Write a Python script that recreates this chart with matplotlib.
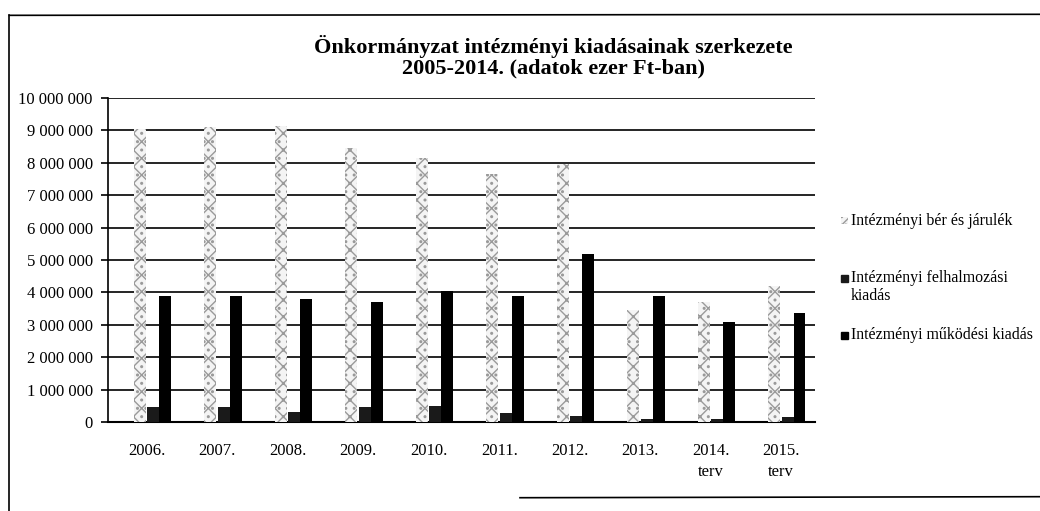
import matplotlib
matplotlib.use("Agg")
import matplotlib.pyplot as plt
import numpy as np
from matplotlib.patches import Rectangle

plt.rcParams['font.family'] = ['Liberation Serif', 'DejaVu Serif']

years = ["2006.", "2007.", "2008.", "2009.", "2010.", "2011.", "2012.", "2013.", "2014.\nterv", "2015.\nterv"]
ber = [9050000, 9100000, 9150000, 8450000, 8150000, 7650000, 7950000, 3450000, 3700000, 4200000]
felhalm = [450000, 450000, 300000, 450000, 500000, 280000, 200000, 100000, 100000, 150000]
mukodesi = [3900000, 3880000, 3800000, 3700000, 4050000, 3900000, 5200000, 3900000, 3100000, 3350000]
labels = ["Intézményi bér és járulék", "Intézményi felhalmozási\nkiadás", "Intézményi működési kiadás"]

W, H = 1040, 511
fig = plt.figure(figsize=(W / 100, H / 100), dpi=100)
ax = fig.add_axes([108 / W, 1 - 422 / H, 707 / W, 324 / H])

x = np.arange(len(years))
w = 0.17
ber_style = dict(facecolor='#f4f4f4', edgecolor='#9a9a9a', hatch='xx..', linewidth=0)
ax.bar(x - 0.10, ber, w, zorder=3, **ber_style)
ax.bar(x + 0.09, felhalm, w, color='#1a1a1a', zorder=3)
ax.bar(x + 0.26, mukodesi, w, color='black', zorder=3)

ax.set_xlim(-0.553, 9.48)
ax.set_ylim(0, 10000000)
ax.set_yticks(np.arange(0, 10000001, 1000000))
ax.yaxis.set_major_formatter(matplotlib.ticker.FuncFormatter(lambda v, p: f"{int(v):,}".replace(",", " ")))
ax.set_xticks(x)
ax.set_xticklabels(years, fontsize=12, linespacing=1.4)
ax.tick_params(axis='y', direction='out', length=5, width=1.2, labelsize=12, pad=6)
ax.tick_params(axis='x', length=0, pad=15)
ax.grid(axis='y', color='black', linewidth=1.2, zorder=1)
for s in ['top', 'right']:
    ax.spines[s].set_visible(False)
ax.spines['left'].set_linewidth(1.2)
ax.spines['bottom'].set_linewidth(1.5)

fig.text(553 / W, 1 - 57 / H, "Önkormányzat intézményi kiadásainak szerkezete\n2005-2014. (adatok ezer Ft-ban)",
         ha='center', va='center', fontsize=16, fontweight='bold', linespacing=1.05)

# legend, placed by hand like the original
leg_y = [221, 278, 335]
leg_fc = [None, '#1a1a1a', 'black']
for yy, lab, fc in zip(leg_y, labels, leg_fc):
    if fc is None:
        r = Rectangle((841 / W, 1 - (yy + 3.5) / H), 7 / W, 7 / H, transform=fig.transFigure, **ber_style)
    else:
        r = Rectangle((841 / W, 1 - (yy + 3.5) / H), 7 / W, 7 / H, transform=fig.transFigure, color=fc)
    fig.add_artist(r)
    fig.text(851 / W, 1 - (yy - 8) / H, lab, ha='left', va='top', fontsize=11.4, linespacing=1.15)

# outer frame of the scanned chart
fig.add_artist(plt.Line2D([0.009, 0.009], [0.0, 0.970], color='black', lw=1.2, transform=fig.transFigure))
fig.add_artist(plt.Line2D([0.009, 1.0], [0.970, 0.972], color='black', lw=1.2, transform=fig.transFigure))
fig.add_artist(plt.Line2D([0.5, 1.0], [0.026, 0.028], color='black', lw=1.2, transform=fig.transFigure))

fig.savefig("out.png", dpi=100)
